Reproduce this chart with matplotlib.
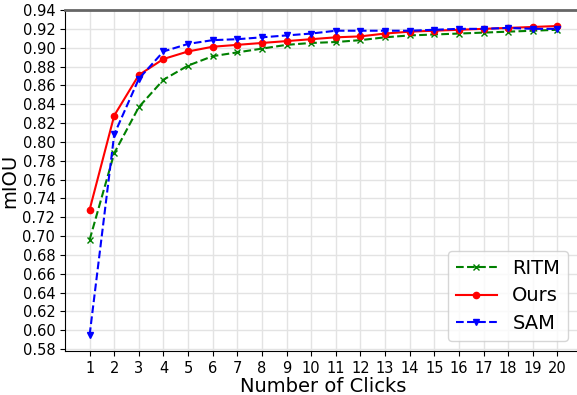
import matplotlib
matplotlib.use('Agg')
import matplotlib.pyplot as plt
import numpy as np

clicks = list(range(1, 21))

ritm = [0.696, 0.788, 0.837, 0.866, 0.881, 0.891, 0.895, 0.899, 0.903, 0.905,
        0.906, 0.908, 0.911, 0.913, 0.914, 0.915, 0.916, 0.917, 0.918, 0.919]
ours = [0.728, 0.828, 0.871, 0.888, 0.896, 0.901, 0.903, 0.905, 0.907, 0.909,
        0.911, 0.912, 0.915, 0.917, 0.918, 0.919, 0.920, 0.921, 0.922, 0.923]
sam = [0.595, 0.808, 0.867, 0.896, 0.904, 0.908, 0.909, 0.911, 0.913, 0.915,
       0.918, 0.918, 0.918, 0.918, 0.919, 0.920, 0.920, 0.921, 0.920, 0.920]

y_ticks = np.round(np.arange(0.58, 0.941, 0.02), 2)

W, H = 577, 395
fig = plt.figure(figsize=(W / 100, H / 100), dpi=100)
# axes runs past the right edge like the cropped original
ax = fig.add_axes([65 / W, 1 - 351 / H, 517 / W, 341 / H])

ax.plot(clicks, ritm, color='green', linestyle='--', marker='x', markersize=4,
        linewidth=1.5, label='RITM')
ax.plot(clicks, ours, color='red', linestyle='-', marker='o', markersize=4.5,
        linewidth=1.5, label='Ours')
ax.plot(clicks, sam, color='blue', linestyle='--', marker='v', markersize=5,
        linewidth=1.5, label='SAM')

ax.set_xlim(0, 21)
ax.set_ylim(0.578, 0.94)
ax.set_xticks(clicks)
ax.set_yticks(y_ticks)
ax.set_yticklabels([f'{v:.2f}' for v in y_ticks])
ax.tick_params(labelsize=10.5)

ax.grid(True, color='#e3e3e3', linewidth=1)
ax.set_axisbelow(True)

ax.spines['top'].set_color('#666666')
ax.spines['top'].set_linewidth(2)
ax.spines['right'].set_visible(False)

ax.set_xlabel('Number of Clicks', fontsize=14, labelpad=1)
ax.set_ylabel('mIOU', fontsize=14, labelpad=2)

ax.legend(loc='lower right', bbox_to_anchor=(568 / W, 1 - 341 / H),
          bbox_transform=fig.transFigure, borderaxespad=0, fontsize=14,
          handlelength=2.1, handletextpad=0.8, labelspacing=0.45,
          borderpad=0.4)

fig.savefig('out.png', dpi=100)
